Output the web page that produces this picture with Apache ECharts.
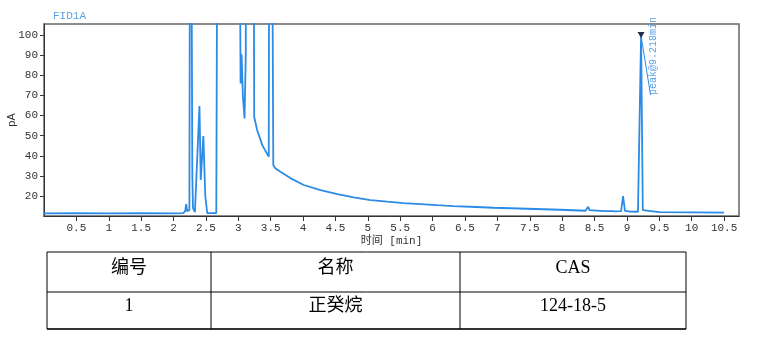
<!DOCTYPE html>
<html>
<head>
<meta charset="utf-8">
<script src="https://cdn.jsdelivr.net/npm/echarts@6/dist/echarts.min.js"></script>
<style>
html,body{margin:0;padding:0;background:#fff;}
#chart{width:760px;height:338px;}
</style>
</head>
<body>
<div id="chart"></div>
<script>
// Retention time (min)
const times = [
  0.00, 0.50, 1.00, 1.50, 2.00, 2.15, 2.18, 2.195, 2.21, 2.225,
  2.245, 2.26, 2.275, 2.29, 2.30, 2.33, 2.40, 2.42, 2.46, 2.49,
  2.52, 2.60, 2.66, 2.70, 2.90, 3.015, 3.035, 3.05, 3.07, 3.096,
  3.115, 3.13, 3.20, 3.23, 3.245, 3.29, 3.37, 3.47, 3.49, 3.52,
  3.54, 3.57, 3.65, 3.81, 4.01, 4.27, 4.53, 4.78, 5.04, 5.30,
  5.55, 5.81, 6.07, 6.15, 6.17, 6.19, 6.32, 6.58, 6.94, 7.46,
  7.97, 8.36, 8.38, 8.40, 8.42, 8.45, 8.66, 8.68, 8.70, 8.78,
  8.80, 8.82, 8.91, 8.94, 8.97, 9.05, 9.17, 9.19, 9.218, 9.245,
  9.27, 9.50, 10.00, 10.50
];
// FID signal (pA)
const signal = [
  11.4, 11.5, 11.4, 11.5, 11.4, 11.5, 12.5, 16.0, 12.5, 12.0,
  13.0, 300, 300, 30.0, 14.0, 12.0, 64.7, 28.0, 49.8, 20.0,
  11.6, 11.5, 11.6, 400, 500, 200, 76.0, 90.5, 70.0, 58.6,
  90.0, 300, 400, 300, 59.4, 52.8, 45.3, 39.5, 400, 400,
  35.4, 33.8, 32.1, 28.8, 25.5, 23.0, 21.0, 19.3, 18.0, 17.2,
  16.5, 16.0, 15.5, 15.4, 15.9, 15.3, 15.0, 14.7, 14.2, 13.7,
  13.2, 12.7, 13.0, 14.7, 13.0, 12.6, 12.5, 13.4, 12.5, 12.5,
  13.4, 12.4, 12.5, 20.0, 12.6, 12.3, 12.2, 13.0, 99.3, 13.0,
  12.1, 12.0, 11.9, 11.8
];
const yTicks = [20, 30, 40, 50, 60, 70, 80, 90, 100];
const peakTime = 9.218;
const peakLabel = 'peak@9.218min';
const tableHeader = ['编号', '名称', 'CAS'];
const tableRow = ['1', '正癸烷', '124-18-5'];

const chart = echarts.init(document.getElementById('chart'), null, {renderer: 'canvas'});
const lineColor = '#2b8be6';
const monoFont = 'Liberation Mono, Noto Sans CJK SC';

// table layout
const tx = [47, 211, 460, 686];
const ty = [252, 292, 329];
const graphics = [];
graphics.push({type: 'line', shape: {x1: tx[0], y1: ty[0], x2: tx[3], y2: ty[0]}, style: {stroke: '#000', lineWidth: 1}});
graphics.push({type: 'line', shape: {x1: tx[0], y1: ty[1], x2: tx[3], y2: ty[1]}, style: {stroke: '#000', lineWidth: 1}});
graphics.push({type: 'line', shape: {x1: tx[0], y1: ty[2], x2: tx[3], y2: ty[2]}, style: {stroke: '#333', lineWidth: 2}});
tx.forEach(x => graphics.push({type: 'line', shape: {x1: x, y1: ty[0], x2: x, y2: ty[2]}, style: {stroke: '#000', lineWidth: 1}}));
[tableHeader, tableRow].forEach((row, r) => {
  row.forEach((txt, c) => {
    graphics.push({
      type: 'text',
      x: (tx[c] + tx[c + 1]) / 2,
      y: (ty[r] + ty[r + 1]) / 2 - 4,
      style: {text: txt, fill: '#000', font: '18px "Liberation Serif", "Noto Sans CJK SC"', textAlign: 'center', textVerticalAlign: 'middle'}
    });
  });
});

const option = {
  animation: false,
  title: {
    text: 'FID1A', left: 48, top: 6,
    textStyle: {color: '#5aa2e6', fontSize: 11, fontWeight: 'normal', fontFamily: monoFont}
  },
  grid: {left: 44, right: 21, top: 24, bottom: 122, containLabel: false, outerBoundsMode: 'none',
         show: true, borderColor: '#666', borderWidth: 1.5, backgroundColor: 'transparent'},
  xAxis: {
    type: 'value', min: 0, max: 10.73, interval: 0.5,
    name: '时间 [min]', nameLocation: 'middle', nameGap: 20, nameMoveOverlap: false,
    nameTextStyle: {color: '#333', fontSize: 11, fontFamily: monoFont},
    axisLine: {show: true, lineStyle: {color: '#333', width: 1}},
    axisTick: {show: true, length: 5, lineStyle: {color: '#333'}},
    axisLabel: {color: '#333', fontSize: 11, fontFamily: monoFont, margin: 7, showMinLabel: false, showMaxLabel: false},
    splitLine: {show: false}
  },
  yAxis: {
    type: 'value', min: 10.1, max: 105.5,
    name: 'pA', nameLocation: 'middle', nameGap: 27, nameMoveOverlap: false,
    nameTextStyle: {color: '#333', fontSize: 11, fontFamily: 'Liberation Sans'},
    axisLine: {show: true, lineStyle: {color: '#333', width: 1}},
    axisTick: {show: true, length: 4, lineStyle: {color: '#333'}, customValues: yTicks},
    axisLabel: {color: '#333', fontSize: 11, fontFamily: monoFont, margin: 6, customValues: yTicks},
    splitLine: {show: false}
  },
  series: [{
    type: 'line',
    data: times.map((t, i) => [t, signal[i]]),
    showSymbol: false,
    symbol: 'none',
    clip: true,
    lineStyle: {color: lineColor, width: 1.8},
    itemStyle: {color: lineColor},
    markLine: {
      silent: true, symbol: ['none', 'none'],
      lineStyle: {color: lineColor, width: 1, type: 'solid'},
      label: {show: false},
      data: [[{coord: [peakTime, 99.5]}, {coord: [9.365, 70.2]}]]
    },
    markPoint: {
      silent: true,
      data: [
        {coord: [peakTime, 100], symbol: 'triangle', symbolRotate: 180, symbolSize: [7, 6],
         itemStyle: {color: '#1d2b4d'}, label: {show: false}},
        {coord: [9.413, 70.2], symbol: 'circle', symbolSize: 1, itemStyle: {color: 'rgba(0,0,0,0)'},
         label: {show: true, formatter: peakLabel, rotate: 90, position: 'inside', align: 'left', verticalAlign: 'middle',
                 color: '#5aa2e6', fontSize: 10, fontFamily: monoFont}}
      ]
    }
  }],
  graphic: graphics
};
chart.setOption(option);
</script>
</body>
</html>
